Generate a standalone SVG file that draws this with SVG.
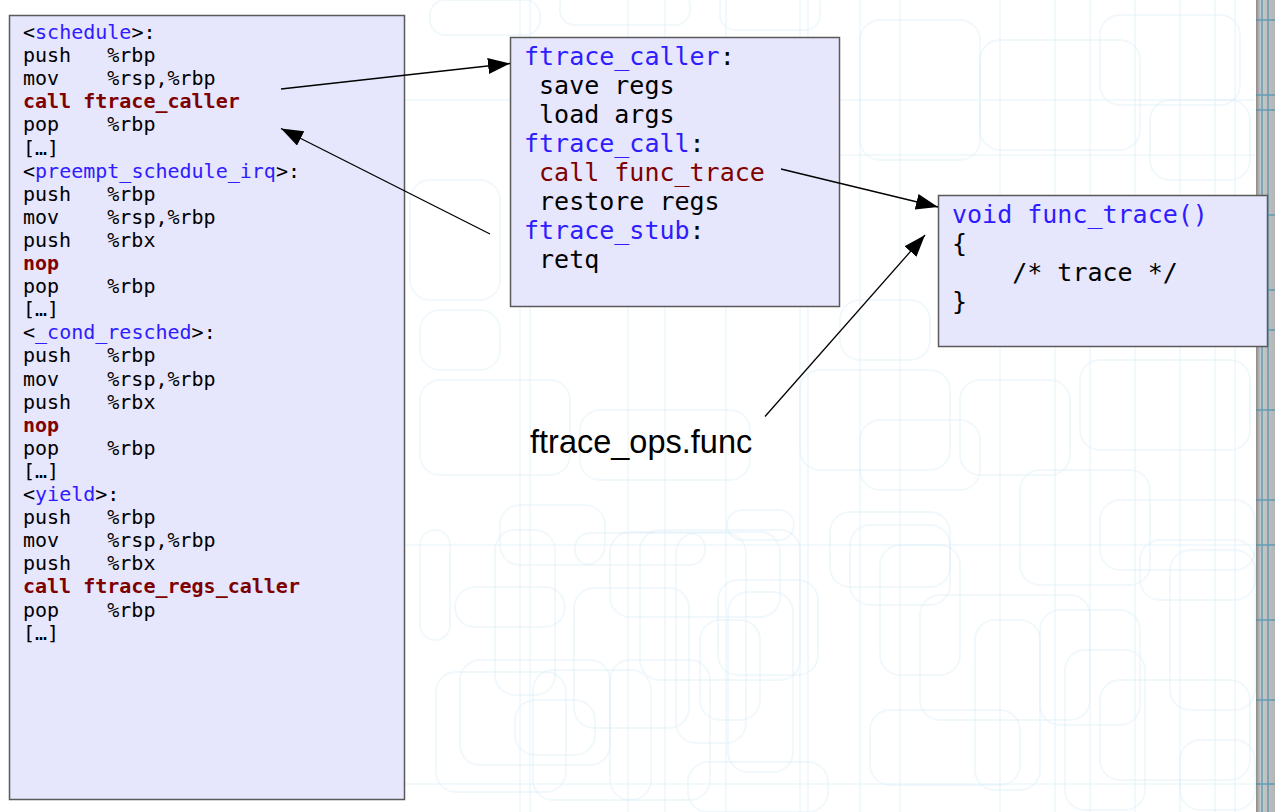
<svg xmlns="http://www.w3.org/2000/svg" width="1275" height="812" viewBox="0 0 1275 812">
<defs>
<style>
.bg{fill:none;stroke:#cfe9f5;stroke-width:2;opacity:0.3}
.bgl{fill:none;stroke:#d9eff8;stroke-width:2;opacity:0.35}
.box{fill:#e6e6fc;stroke:#5a5a5a;stroke-width:1.5}
.mono{font-family:"DejaVu Sans Mono","Liberation Mono",monospace;fill:#000}
.blue{fill:#2f1cff}
.red{fill:#7f0000}
.b{font-weight:bold}
.conn{stroke:#000;stroke-width:1.3;fill:none;marker-end:url(#arr)}
</style>
<marker id="arr" markerUnits="userSpaceOnUse" markerWidth="24" markerHeight="18" refX="22" refY="8" orient="auto">
<path d="M0,0 L22,8 L0,16 z" fill="#000"/>
</marker>
<linearGradient id="edge" x1="0" y1="0" x2="1" y2="0">
<stop offset="0" stop-color="#8a8a8a"/>
<stop offset="0.25" stop-color="#c8c8c8"/>
<stop offset="1" stop-color="#b5b5b5"/>
</linearGradient>
</defs>
<rect x="0" y="0" width="1275" height="812" fill="#ffffff"/>
<g id="background">
<rect class="bg" x="500" y="505" width="105" height="60" rx="20"/>
<rect class="bg" x="420" y="530" width="30" height="110" rx="15"/>
<rect class="bg" x="495" y="530" width="60" height="165" rx="20"/>
<rect class="bg" x="575" y="533" width="130" height="32" rx="15"/>
<rect class="bg" x="610" y="532" width="170" height="85" rx="20"/>
<rect class="bg" x="455" y="587" width="110" height="40" rx="20"/>
<rect class="bg" x="574" y="588" width="115" height="140" rx="20"/>
<rect class="bg" x="640" y="530" width="160" height="150" rx="20"/>
<rect class="bg" x="718" y="580" width="100" height="95" rx="20"/>
<rect class="bg" x="676" y="533" width="70" height="210" rx="20"/>
<rect class="bg" x="460" y="660" width="150" height="105" rx="20"/>
<rect class="bg" x="436" y="672" width="130" height="120" rx="20"/>
<rect class="bg" x="515" y="700" width="80" height="55" rx="20"/>
<rect class="bg" x="533" y="670" width="118" height="130" rx="20"/>
<rect class="bg" x="610" y="660" width="100" height="140" rx="20"/>
<rect class="bg" x="700" y="620" width="60" height="100" rx="20"/>
<rect class="bg" x="688" y="762" width="140" height="50" rx="20"/>
<rect class="bg" x="728" y="592" width="65" height="180" rx="20"/>
<rect class="bg" x="727" y="510" width="67" height="30" rx="15"/>
<rect class="bg" x="830" y="512" width="120" height="75" rx="20"/>
<rect class="bg" x="850" y="525" width="100" height="80" rx="20"/>
<rect class="bg" x="880" y="545" width="80" height="130" rx="20"/>
<rect class="bg" x="920" y="595" width="170" height="125" rx="20"/>
<rect class="bg" x="975" y="620" width="65" height="170" rx="20"/>
<rect class="bg" x="1040" y="610" width="100" height="115" rx="20"/>
<rect class="bg" x="1065" y="650" width="80" height="160" rx="20"/>
<rect class="bg" x="1100" y="680" width="150" height="100" rx="20"/>
<rect class="bg" x="1140" y="540" width="115" height="60" rx="20"/>
<rect class="bg" x="1170" y="550" width="85" height="160" rx="20"/>
<rect class="bg" x="1180" y="740" width="75" height="70" rx="20"/>
<rect class="bg" x="870" y="710" width="150" height="75" rx="20"/>
<rect class="bg" x="1020" y="470" width="130" height="115" rx="20"/>
<rect class="bg" x="1100" y="500" width="155" height="70" rx="20"/>
<rect class="bg" x="420" y="380" width="150" height="95" rx="20"/>
<rect class="bg" x="580" y="410" width="170" height="70" rx="20"/>
<rect class="bg" x="800" y="370" width="150" height="100" rx="20"/>
<rect class="bg" x="960" y="380" width="110" height="95" rx="20"/>
<rect class="bg" x="1080" y="360" width="170" height="90" rx="20"/>
<rect class="bg" x="860" y="420" width="120" height="70" rx="20"/>
<rect class="bg" x="420" y="310" width="80" height="60" rx="20"/>
<rect class="bg" x="860" y="20" width="120" height="140" rx="20"/>
<rect class="bg" x="980" y="40" width="160" height="110" rx="20"/>
<rect class="bg" x="1100" y="15" width="140" height="90" rx="20"/>
<rect class="bg" x="1150" y="100" width="100" height="80" rx="20"/>
<rect class="bg" x="840" y="300" width="90" height="60" rx="20"/>
<rect class="bg" x="430" y="0" width="110" height="35" rx="15"/>
<rect class="bg" x="560" y="-10" width="130" height="35" rx="15"/>
<rect class="bg" x="410" y="180" width="90" height="120" rx="20"/>
<rect class="bg" x="720" y="-10" width="100" height="40" rx="15"/>
<line class="bgl" x1="520" y1="0" x2="520" y2="812"/>
<line class="bgl" x1="530" y1="0" x2="530" y2="812"/>
<line class="bgl" x1="628" y1="0" x2="628" y2="812"/>
<line class="bgl" x1="665" y1="0" x2="665" y2="812"/>
<line class="bgl" x1="726" y1="0" x2="726" y2="812"/>
<line class="bgl" x1="800" y1="0" x2="800" y2="812"/>
<line class="bgl" x1="808" y1="0" x2="808" y2="812"/>
<line class="bgl" x1="860" y1="0" x2="860" y2="812"/>
<line class="bgl" x1="900" y1="0" x2="900" y2="812"/>
<line class="bgl" x1="1000" y1="0" x2="1000" y2="812"/>
<line class="bgl" x1="1055" y1="0" x2="1055" y2="812"/>
<line class="bgl" x1="1090" y1="0" x2="1090" y2="812"/>
<line class="bgl" x1="1135" y1="0" x2="1135" y2="812"/>
<line class="bgl" x1="1180" y1="0" x2="1180" y2="812"/>
<line class="bgl" x1="1215" y1="0" x2="1215" y2="812"/>
<line class="bgl" x1="1235" y1="0" x2="1235" y2="812"/>
<line class="bgl" x1="405" y1="545" x2="1255" y2="545"/>
<line class="bgl" x1="405" y1="784" x2="1255" y2="784"/>
<line class="bgl" x1="405" y1="100" x2="1255" y2="100"/>
<line class="bgl" x1="840" y1="155" x2="1255" y2="155"/>
<rect x="1256" y="0" width="19" height="812" fill="url(#edge)"/>
<g stroke="#3a8fb0" stroke-width="1.5" opacity="0.7" fill="none">
<line x1="1256" y1="20" x2="1275" y2="20"/>
<line x1="1256" y1="95" x2="1275" y2="95"/>
<line x1="1256" y1="110" x2="1275" y2="110"/>
<line x1="1256" y1="215" x2="1275" y2="215"/>
<line x1="1256" y1="290" x2="1275" y2="290"/>
<line x1="1256" y1="330" x2="1275" y2="330"/>
<line x1="1256" y1="410" x2="1275" y2="410"/>
<line x1="1256" y1="500" x2="1275" y2="500"/>
<line x1="1256" y1="545" x2="1275" y2="545"/>
<line x1="1256" y1="620" x2="1275" y2="620"/>
<line x1="1256" y1="700" x2="1275" y2="700"/>
<line x1="1256" y1="784" x2="1275" y2="784"/>
<line x1="1262" y1="0" x2="1262" y2="812"/>
<line x1="1268" y1="0" x2="1268" y2="812"/>
</g>
</g>
<g id="asm-listing">
<rect class="box" x="9.5" y="15.5" width="395" height="784"/>
<text class="mono" font-size="20" xml:space="preserve">
<tspan x="23" y="39">&lt;<tspan class="blue">schedule</tspan>&gt;:</tspan>
<tspan x="23" y="62.1">push   %rbp</tspan>
<tspan x="23" y="85.2">mov    %rsp,%rbp</tspan>
<tspan x="23" y="108.3" class="red b">call ftrace_caller</tspan>
<tspan x="23" y="131.4">pop    %rbp</tspan>
<tspan x="23" y="154.5">[…]</tspan>
<tspan x="23" y="177.6">&lt;<tspan class="blue">preempt_schedule_irq</tspan>&gt;:</tspan>
<tspan x="23" y="200.7">push   %rbp</tspan>
<tspan x="23" y="223.8">mov    %rsp,%rbp</tspan>
<tspan x="23" y="246.9">push   %rbx</tspan>
<tspan x="23" y="270" class="red b">nop</tspan>
<tspan x="23" y="293.1">pop    %rbp</tspan>
<tspan x="23" y="316.2">[…]</tspan>
<tspan x="23" y="339.3">&lt;<tspan class="blue">_cond_resched</tspan>&gt;:</tspan>
<tspan x="23" y="362.4">push   %rbp</tspan>
<tspan x="23" y="385.5">mov    %rsp,%rbp</tspan>
<tspan x="23" y="408.6">push   %rbx</tspan>
<tspan x="23" y="431.7" class="red b">nop</tspan>
<tspan x="23" y="454.8">pop    %rbp</tspan>
<tspan x="23" y="477.9">[…]</tspan>
<tspan x="23" y="501">&lt;<tspan class="blue">yield</tspan>&gt;:</tspan>
<tspan x="23" y="524.1">push   %rbp</tspan>
<tspan x="23" y="547.2">mov    %rsp,%rbp</tspan>
<tspan x="23" y="570.3">push   %rbx</tspan>
<tspan x="23" y="593.4" class="red b">call ftrace_regs_caller</tspan>
<tspan x="23" y="616.5">pop    %rbp</tspan>
<tspan x="23" y="639.6">[…]</tspan>
</text>
</g>
<g id="ftrace-caller">
<rect class="box" x="510.5" y="37.5" width="329" height="269"/>
<text class="mono" font-size="25" xml:space="preserve">
<tspan x="524" y="65"><tspan class="blue">ftrace_caller</tspan>:</tspan>
<tspan x="524" y="94"> save regs</tspan>
<tspan x="524" y="123"> load args</tspan>
<tspan x="524" y="152"><tspan class="blue">ftrace_call</tspan>:</tspan>
<tspan x="524" y="181" class="red"> call func_trace</tspan>
<tspan x="524" y="210"> restore regs</tspan>
<tspan x="524" y="239"><tspan class="blue">ftrace_stub</tspan>:</tspan>
<tspan x="524" y="268"> retq</tspan>
</text>
</g>
<g id="func-trace">
<rect class="box" x="938.5" y="195.5" width="329" height="151"/>
<text class="mono" font-size="25" xml:space="preserve">
<tspan x="952" y="223" class="blue">void func_trace()</tspan>
<tspan x="952" y="252">{</tspan>
<tspan x="952" y="281">    /* trace */</tspan>
<tspan x="952" y="310">}</tspan>
</text>
</g>
<g id="ftrace-ops-label">
<text x="530" y="453" font-family="'Liberation Sans',Arial,sans-serif" font-size="32.5" fill="#000">ftrace_ops.func</text>
</g>
<g id="connectors">
<line class="conn" x1="281" y1="89" x2="510" y2="63.5"/>
<line class="conn" x1="490" y1="234" x2="281" y2="128.5"/>
<line class="conn" x1="781" y1="169" x2="938" y2="207"/>
<line class="conn" x1="765" y1="416.5" x2="925" y2="235"/>
</g>
</svg>
